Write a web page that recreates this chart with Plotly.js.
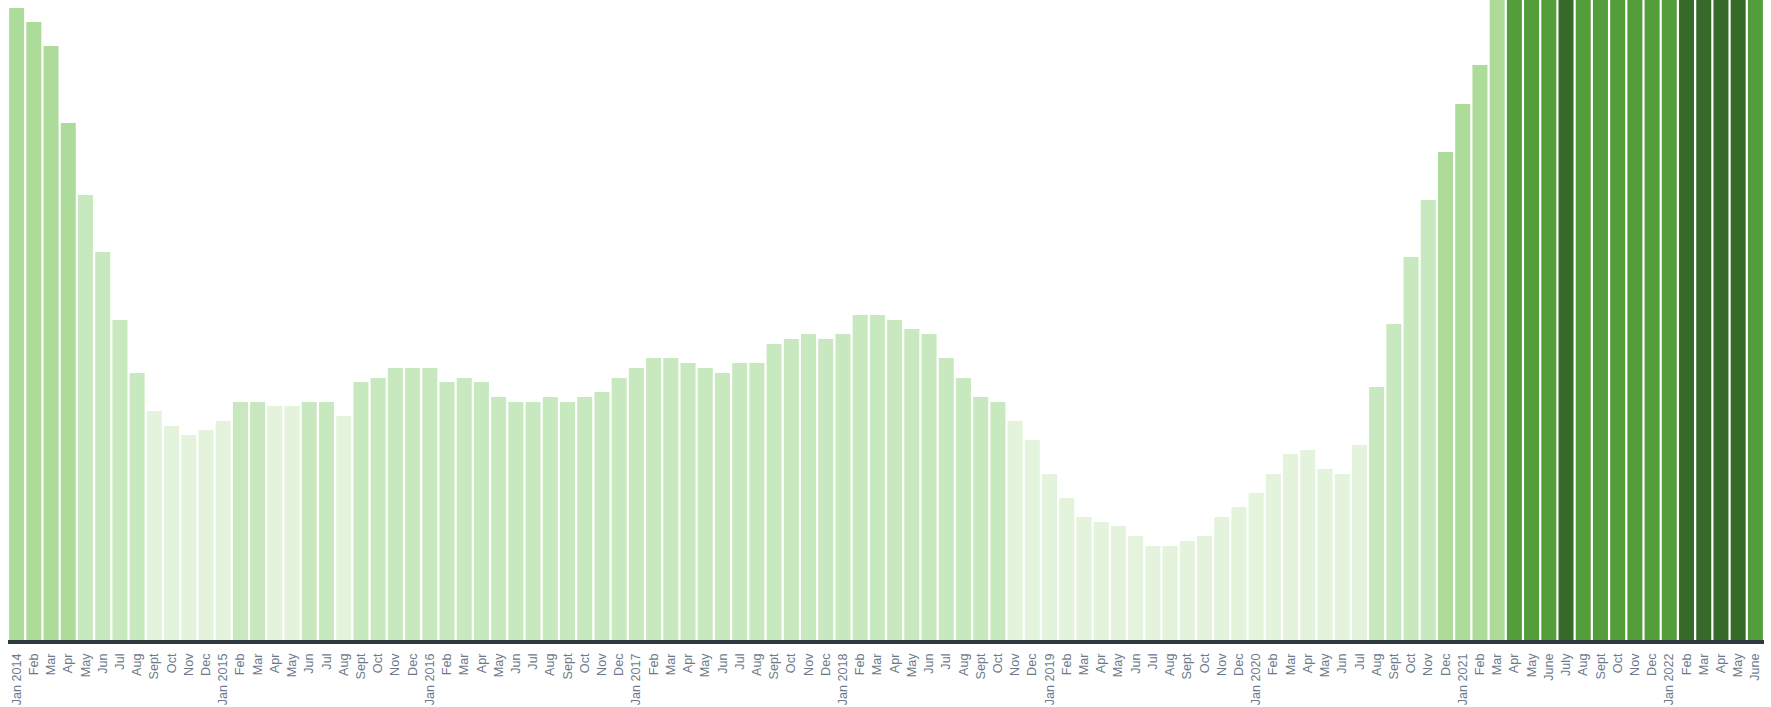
<!DOCTYPE html>
<html>
<head>
<meta charset="utf-8">
<script src="https://cdn.plot.ly/plotly-3.0.1.min.js"></script>
<style>
  html, body { margin: 0; padding: 0; background: #ffffff; }
  #chart { width: 1771px; height: 707px; }
</style>
</head>
<body>
<div id="chart"></div>
<script>
// Month keys (unique categories)
const months = [];
for (let y = 2014; y <= 2022; y++) {
  for (let m = 1; m <= 12; m++) {
    if (y === 2022 && m > 6) break;
    months.push(y + '-' + String(m).padStart(2, '0'));
  }
}

// Tick labels as shown on the chart
const tickLabels = [
  'Jan 2014','Feb','Mar','Apr','May','Jun','Jul','Aug','Sept','Oct','Nov','Dec',
  'Jan 2015','Feb','Mar','Apr','May','Jun','Jul','Aug','Sept','Oct','Nov','Dec',
  'Jan 2016','Feb','Mar','Apr','May','Jun','Jul','Aug','Sept','Oct','Nov','Dec',
  'Jan 2017','Feb','Mar','Apr','May','Jun','Jul','Aug','Sept','Oct','Nov','Dec',
  'Jan 2018','Feb','Mar','Apr','May','Jun','Jul','Aug','Sept','Oct','Nov','Dec',
  'Jan 2019','Feb','Mar','Apr','May','Jun','Jul','Aug','Sept','Oct','Nov','Dec',
  'Jan 2020','Feb','Mar','Apr','May','Jun','Jul','Aug','Sept','Oct','Nov','Dec',
  'Jan 2021','Feb','Mar','Apr','May','June','July','Aug','Sept','Oct','Nov','Dec',
  'Jan 2022','Feb','Mar','Apr','May','June'
];

// Values (arbitrary units)
const values2014 = [632, 618, 594, 517, 445, 388, 320, 267, 229, 214, 205, 210];
const values2015 = [219, 238, 238, 234, 234, 238, 238, 224, 258, 262, 272, 272];
const values2016 = [272, 258, 262, 258, 243, 238, 238, 243, 238, 243, 248, 262];
const values2017 = [272, 282, 282, 277, 272, 267, 277, 277, 296, 301, 306, 301];
const values2018 = [306, 325, 325, 320, 311, 306, 282, 262, 243, 238, 219, 200];
const values2019 = [166, 142, 123, 118, 114, 104, 94, 94, 99, 104, 123, 133];
const values2020 = [147, 166, 186, 190, 171, 166, 195, 253, 316, 383, 440, 488];
const values2021 = [536, 575, 660, 730, 750, 770, 820, 790, 770, 760, 750, 760];
const values2022 = [780, 830, 860, 850, 820, 780];

const values = [].concat(values2014, values2015, values2016, values2017,
                         values2018, values2019, values2020, values2021, values2022);

// Colour buckets by value
function bucketColor(v) {
  if (v < 236) return '#e3f3dc';
  if (v < 470) return '#c8e8bf';
  if (v < 700) return '#acdb9a';
  if (v < 800) return '#539d3b';
  return '#366a28';
}
const colors = values.map(bucketColor);

const trace = {
  type: 'bar',
  x: months,
  y: values,
  marker: { color: colors, line: { width: 0 } },
  hoverinfo: 'x+y'
};

const layout = {
  width: 1771,
  height: 707,
  margin: { l: 8, r: 7, t: 0, b: 67, pad: 0 },
  paper_bgcolor: '#ffffff',
  plot_bgcolor: '#ffffff',
  bargap: 0.128,
  showlegend: false,
  xaxis: {
    type: 'category',
    tickmode: 'array',
    tickvals: months,
    ticktext: tickLabels,
    tickangle: -90,
    ticks: '',
    ticklabelstandoff: 5,
    showgrid: false,
    zeroline: false,
    showline: true,
    linecolor: '#2f3a3e',
    linewidth: 3.5,
    tickfont: { family: 'Liberation Sans, Arial, sans-serif', size: 12.6, color: '#6c798b' },
    fixedrange: true
  },
  yaxis: {
    range: [0, 640],
    visible: false,
    showgrid: false,
    zeroline: false,
    fixedrange: true
  }
};

Plotly.newPlot('chart', [trace], layout, { displayModeBar: false, staticPlot: true });
</script>
</body>
</html>
